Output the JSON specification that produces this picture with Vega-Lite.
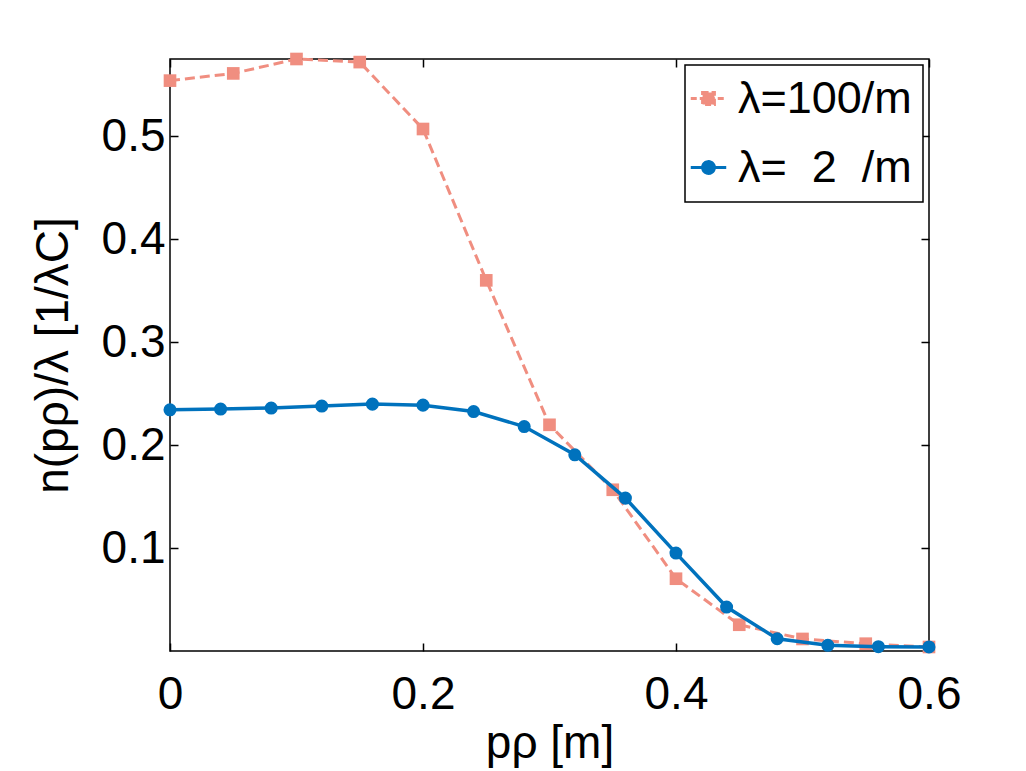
{
  "$schema": "https://vega.github.io/schema/vega-lite/v6.json",
  "width": 759,
  "height": 592,
  "autosize": "none",
  "padding": {"left": 170, "top": 59, "right": 97, "bottom": 120},
  "background": "white",
  "config": {
    "font": "Liberation Sans",
    "view": {"stroke": "black", "strokeWidth": 1.5},
    "axis": {
      "domain": false,
      "grid": false,
      "tickColor": "black",
      "tickWidth": 1.5,
      "tickSize": -8,
      "labelFlush": false,
      "labelOverlap": false,
      "labelFont": "Liberation Sans",
      "labelFontSize": 46,
      "labelColor": "black",
      "titleFont": "Liberation Sans",
      "titleFontSize": 46,
      "titleFontWeight": "normal",
      "titleColor": "black"
    },
    "legend": {
      "labelFont": "Liberation Sans",
      "labelFontSize": 45,
      "labelColor": "black",
      "labelLimit": 0,
      "strokeColor": "black",
      "strokeWidth": 1.5,
      "fillColor": "white",
      "padding": 11,
      "rowPadding": 23,
      "symbolSize": 140,
      "symbolOffset": -10,
      "labelOffset": 7,
      "orient": "top-right",
      "offset": 6
    }
  },
  "data": {
    "values": [
      {"x": 0.0, "y": 0.554, "series": "λ=100/m"},
      {"x": 0.05, "y": 0.561, "series": "λ=100/m"},
      {"x": 0.1, "y": 0.575, "series": "λ=100/m"},
      {"x": 0.15, "y": 0.572, "series": "λ=100/m"},
      {"x": 0.2, "y": 0.507, "series": "λ=100/m"},
      {"x": 0.25, "y": 0.36, "series": "λ=100/m"},
      {"x": 0.3, "y": 0.2197, "series": "λ=100/m"},
      {"x": 0.35, "y": 0.1566, "series": "λ=100/m"},
      {"x": 0.4, "y": 0.0702, "series": "λ=100/m"},
      {"x": 0.45, "y": 0.0255, "series": "λ=100/m"},
      {"x": 0.5, "y": 0.0117, "series": "λ=100/m"},
      {"x": 0.55, "y": 0.0071, "series": "λ=100/m"},
      {"x": 0.6, "y": 0.0039, "series": "λ=100/m"},
      {"x": 0.0, "y": 0.2343, "series": "λ=\u00a0\u00a02\u00a0\u00a0/m"},
      {"x": 0.04, "y": 0.235, "series": "λ=\u00a0\u00a02\u00a0\u00a0/m"},
      {"x": 0.08, "y": 0.236, "series": "λ=\u00a0\u00a02\u00a0\u00a0/m"},
      {"x": 0.12, "y": 0.2379, "series": "λ=\u00a0\u00a02\u00a0\u00a0/m"},
      {"x": 0.16, "y": 0.2398, "series": "λ=\u00a0\u00a02\u00a0\u00a0/m"},
      {"x": 0.2, "y": 0.2388, "series": "λ=\u00a0\u00a02\u00a0\u00a0/m"},
      {"x": 0.24, "y": 0.2326, "series": "λ=\u00a0\u00a02\u00a0\u00a0/m"},
      {"x": 0.28, "y": 0.218, "series": "λ=\u00a0\u00a02\u00a0\u00a0/m"},
      {"x": 0.32, "y": 0.1906, "series": "λ=\u00a0\u00a02\u00a0\u00a0/m"},
      {"x": 0.36, "y": 0.1485, "series": "λ=\u00a0\u00a02\u00a0\u00a0/m"},
      {"x": 0.4, "y": 0.0951, "series": "λ=\u00a0\u00a02\u00a0\u00a0/m"},
      {"x": 0.44, "y": 0.0427, "series": "λ=\u00a0\u00a02\u00a0\u00a0/m"},
      {"x": 0.48, "y": 0.0119, "series": "λ=\u00a0\u00a02\u00a0\u00a0/m"},
      {"x": 0.52, "y": 0.0055, "series": "λ=\u00a0\u00a02\u00a0\u00a0/m"},
      {"x": 0.56, "y": 0.0042, "series": "λ=\u00a0\u00a02\u00a0\u00a0/m"},
      {"x": 0.6, "y": 0.0039, "series": "λ=\u00a0\u00a02\u00a0\u00a0/m"}
    ]
  },
  "encoding": {
    "x": {"field": "x", "type": "quantitative", "scale": {"domain": [0, 0.6], "nice": false, "zero": false}},
    "y": {"field": "y", "type": "quantitative", "scale": {"domain": [0, 0.575], "nice": false, "zero": false}},
    "color": {
      "field": "series",
      "type": "nominal",
      "scale": {"domain": ["λ=100/m", "λ=\u00a0\u00a02\u00a0\u00a0/m"], "range": ["#F08E80", "#0072BD"]}
    }
  },
  "resolve": {"axis": {"x": "independent", "y": "independent"}},
  "layer": [
    {
      "transform": [{"filter": {"field": "series", "equal": "λ=100/m"}}],
      "mark": {"type": "line", "strokeWidth": 3, "strokeDash": [10, 5]},
      "encoding": {
        "x": {
          "field": "x", "type": "quantitative",
          "axis": {"orient": "bottom", "values": [0, 0.2, 0.4, 0.6], "format": "~g", "labelPadding": 29, "title": "pρ [m]", "titlePadding": 4}
        },
        "y": {
          "field": "y", "type": "quantitative",
          "axis": {"orient": "left", "values": [0.1, 0.2, 0.3, 0.4, 0.5], "format": ".1f", "labelPadding": 13, "title": "n(pρ)/λ [1/λC]", "titlePadding": 24}
        },
        "color": {
          "field": "series", "type": "nominal",
          "legend": {
            "title": null,
            "encode": {
              "symbols": {
                "update": {
                  "shape": {"signal": "datum.value === 'λ=100/m' ? 'M-3,0H3M-1,-1H1V1H-1Z' : 'M-3,0H3M1,0A1,1,0,1,1,-1,0A1,1,0,1,1,1,0Z'"},
                  "fill": {"scale": "color", "field": "value"},
                  "stroke": {"scale": "color", "field": "value"},
                  "strokeDash": {"signal": "datum.value === 'λ=100/m' ? [6, 3] : [1, 0]"},
                  "strokeWidth": {"value": 3},
                  "opacity": {"value": 1}
                }
              }
            }
          }
        }
      }
    },
    {
      "transform": [{"filter": {"field": "series", "equal": "λ=100/m"}}],
      "mark": {"type": "point", "shape": "square", "filled": true, "size": 160, "opacity": 1},
      "encoding": {
        "x": {"field": "x", "type": "quantitative", "axis": null},
        "y": {"field": "y", "type": "quantitative", "axis": null}
      }
    },
    {
      "transform": [{"filter": {"field": "series", "equal": "λ=\u00a0\u00a02\u00a0\u00a0/m"}}],
      "mark": {"type": "line", "strokeWidth": 3.5},
      "encoding": {
        "x": {
          "field": "x", "type": "quantitative",
          "axis": {"orient": "top", "values": [0, 0.2, 0.4, 0.6], "labels": false, "title": null}
        },
        "y": {
          "field": "y", "type": "quantitative",
          "axis": {"orient": "right", "values": [0.1, 0.2, 0.3, 0.4, 0.5], "labels": false, "title": null}
        }
      }
    },
    {
      "transform": [{"filter": {"field": "series", "equal": "λ=\u00a0\u00a02\u00a0\u00a0/m"}}],
      "mark": {"type": "point", "shape": "circle", "filled": true, "size": 170, "opacity": 1},
      "encoding": {
        "x": {"field": "x", "type": "quantitative", "axis": null},
        "y": {"field": "y", "type": "quantitative", "axis": null}
      }
    }
  ]
}
